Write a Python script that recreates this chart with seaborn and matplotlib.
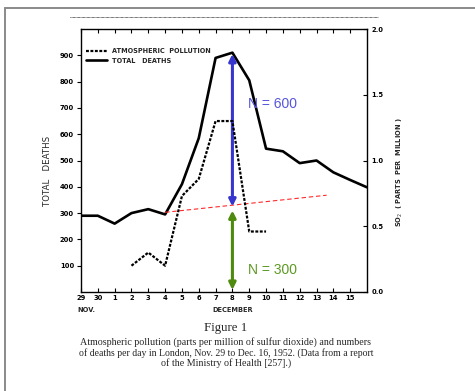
import matplotlib
matplotlib.use("Agg")
import matplotlib.pyplot as plt
from matplotlib.lines import Line2D
import seaborn as sns
import pandas as pd

# ---- data ----
day_labels = ["29", "30", "1", "2", "3", "4", "5", "6", "7", "8",
              "9", "10", "11", "12", "13", "14", "15", "16"]
total_deaths = [290, 290, 260, 300, 315, 295, 410, 585, 890, 910,
                805, 545, 535, 490, 500, 455, 426, 398]
pollution_days = ["2", "3", "4", "5", "6", "7", "8", "9", "10"]
pollution_ppm = [0.20, 0.30, 0.20, 0.73, 0.86, 1.30, 1.30, 0.46, 0.46]
left_ticks = [100, 200, 300, 400, 500, 600, 700, 800, 900]
right_ticks = [0.0, 0.5, 1.0, 1.5, 2.0]
baseline_start = ("4", 303)
baseline_end = (14.6, 368)
arrow_top = 905
arrow_mid_blue = 325
arrow_mid_green = 310
arrow_bottom = 8

sns.set_theme(style="white")
plt.rcParams['font.family'] = ['DejaVu Sans']

W, H = 475, 391
fig = plt.figure(figsize=(W / 100, H / 100), dpi=100)
fig.patch.set_facecolor("white")

L, R, T, B = 81, 367, 29, 292
ax = fig.add_axes([L / W, 1 - B / H, (R - L) / W, (B - T) / H])
ax2 = ax.twinx()

pos = {d: i for i, d in enumerate(day_labels)}
df_d = pd.DataFrame({"x": [pos[d] for d in day_labels], "deaths": total_deaths})
df_p = pd.DataFrame({"x": [pos[d] for d in pollution_days], "ppm": pollution_ppm})

sns.lineplot(data=df_d, x="x", y="deaths", ax=ax, color="black", lw=1.9,
             label="TOTAL DEATHS", legend=False)
sns.lineplot(data=df_p, x="x", y="ppm", ax=ax2, color="black", lw=1.6,
             label="ATMOSPHERIC POLLUTION", legend=False)
ax2.lines[0].set_dashes([1.3, 0.7])

ax.set_xlim(0, 17)
ax.set_ylim(0, 1000)
ax2.set_ylim(0, 2)

tick_font = dict(fontsize=4.9, fontweight="bold")
ax.set_yticks(left_ticks)
ax.set_yticklabels([str(v) for v in left_ticks], **tick_font)
ax2.set_yticks(right_ticks)
ax2.set_yticklabels([f"{v:.1f}" for v in right_ticks], **tick_font)
ax.set_xticks(range(17))
ax.set_xticklabels(day_labels[:17], **tick_font)

ax.tick_params(axis="x", which="both", direction="in", length=3, width=0.8,
               top=True, bottom=True, pad=2, colors="black")
ax.tick_params(axis="y", direction="out", length=3, width=0.8, pad=2, colors="black",
               left=True)
ax2.tick_params(axis="y", direction="in", length=3, width=0.8, pad=3, colors="black",
                right=True)

for a in (ax, ax2):
    for s in a.spines.values():
        s.set_visible(False)
ax.spines["left"].set_visible(True)
ax.spines["bottom"].set_visible(True)
ax.spines["top"].set_visible(True)
ax2.spines["right"].set_visible(True)
for s in [ax.spines["left"], ax.spines["bottom"], ax.spines["top"], ax2.spines["right"]]:
    s.set_color("black")
    s.set_linewidth(1.0)

ax.set_xlabel("")
ax.set_ylabel("TOTAL   DEATHS", fontsize=6.2)
ax.yaxis.set_label_coords((52 - L) / (R - L), (B - 171) / (B - T))
ax2.set_ylabel("SO$_2$  ( PARTS  PER  MILLION )", fontsize=4.8, fontweight="bold",
               rotation=90)
ax2.yaxis.set_label_coords((395 - L) / (R - L), (B - 172) / (B - T))

# NOV. / DECEMBER
ax.text(0.3, -0.058, "NOV.", transform=ax.get_xaxis_transform(), ha="center", va="top",
        fontsize=4.8, fontweight="bold")
ax.text(pos["8"], -0.058, "DECEMBER", transform=ax.get_xaxis_transform(), ha="center",
        va="top", fontsize=4.8, fontweight="bold")

# baseline red dashed line
ax.plot([pos[baseline_start[0]], baseline_end[0]], [baseline_start[1], baseline_end[1]],
        color="#ff2a2a", lw=0.8, dashes=(4, 2.5))

# arrows
xa = pos["8"]
ax.annotate("", xy=(xa, arrow_top), xytext=(xa, arrow_mid_blue),
            arrowprops=dict(arrowstyle="<|-|>", color="#3636cf", lw=2.2,
                            mutation_scale=10, shrinkA=0, shrinkB=0))
ax.annotate("", xy=(xa, arrow_mid_green), xytext=(xa, arrow_bottom),
            arrowprops=dict(arrowstyle="<|-|>", color="#4e8a0e", lw=2.2,
                            mutation_scale=10, shrinkA=0, shrinkB=0))
ax.text(9.95, 715, "N = 600", color="#5555dd", fontsize=10, va="center", ha="left",
        family="Liberation Sans")
ax.text(9.95, 84, "N = 300", color="#5c9a22", fontsize=10, va="center", ha="left",
        family="Liberation Sans")

# legend
h1 = ax2.lines[0]
h2 = ax.lines[0]
leg = ax2.legend([h1, h2], ["ATMOSPHERIC  POLLUTION", "TOTAL   DEATHS"],
                 loc="upper left", bbox_to_anchor=(0.0, 0.945), frameon=False,
                 prop=dict(size=4.7, weight="bold"), handlelength=3.3,
                 handletextpad=0.8, labelspacing=0.55, borderaxespad=0.3)

# page decorations
fig.add_artist(Line2D([4.5 / W, 4.5 / W], [0, 1 - 8 / H], color="#8a8a8a", lw=1.4))
fig.add_artist(Line2D([4.5 / W, 1], [1 - 7.5 / H, 1 - 7.5 / H], color="#8a8a8a", lw=1.4))
fig.add_artist(Line2D([70 / W, 378 / W], [1 - 17 / H, 1 - 17 / H], color="#333333",
                      lw=0.7, dashes=(0.7, 0.6)))

# caption
serif = "Liberation Serif"
cx = 226 / W
fig.text(cx, 1 - 328 / H, "Figure 1", ha="center", va="center", fontsize=9.3, family=serif)
fig.text(cx, 1 - 342 / H,
         "Atmospheric pollution (parts per million of sulfur dioxide) and numbers",
         ha="center", va="center", fontsize=7.2, family=serif)
fig.text(cx, 1 - 353 / H,
         "of deaths per day in London, Nov. 29 to Dec. 16, 1952. (Data from a report",
         ha="center", va="center", fontsize=7.0, family=serif)
fig.text(cx, 1 - 363.5 / H, "of the Ministry of Health [257].)",
         ha="center", va="center", fontsize=7.2, family=serif)

fig.savefig("out.png", dpi=100, facecolor="white")
